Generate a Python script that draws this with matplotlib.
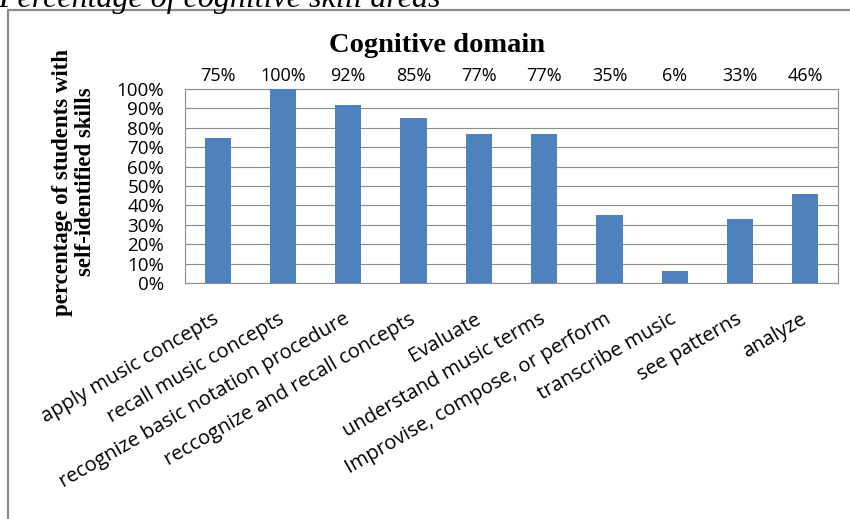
import numpy as np
import matplotlib.pyplot as plt
from matplotlib.patches import Rectangle

# survey results: share of students naming each cognitive skill
skills = ["apply music concepts", "recall music concepts",
          "recognize basic notation procedure", "reccognize and recall concepts",
          "Evaluate", "understand music terms", "Improvise, compose, or perform",
          "transcribe music", "see patterns", "analyze"]
pct = [75, 100, 92, 85, 77, 77, 35, 6, 33, 46]
yticks = list(range(0, 101, 10))

sans = "Open Sans"
serif = "Liberation Serif"

fig = plt.figure(figsize=(8.5, 5.19), dpi=100)
W, H = 850, 519

# caption sitting above the chart frame, mostly cut off
fig.text(-2 / W, 1 - 7 / H, "Percentage of cognitive skill areas", family=serif,
         style="italic", fontsize=23, ha="left", va="baseline")

# outer chart frame
fig.patches.append(Rectangle((8 / W, -0.1), 1.2, (H - 10) / H + 0.1,
                             transform=fig.transFigure, fill=False,
                             edgecolor="#8c8c8c", linewidth=1.6))

ax = fig.add_axes([185 / W, 1 - 283 / H, (838 - 185) / W, (283 - 89) / H])
x = np.arange(len(skills))
ax.bar(x, pct, width=0.4, color="#4f81bd", zorder=3)

ax.set_xlim(-0.5, len(skills) - 0.5)
ax.set_ylim(0, 100)
ax.set_yticks(yticks)
ax.set_yticklabels([f"{v}%" for v in yticks], family=sans, fontsize=13.5)
ax.yaxis.grid(True, color="#8c8c8c", linewidth=0.8, zorder=0)
ax.tick_params(axis="y", length=0, pad=15)
ax.tick_params(axis="x", length=0, pad=25)
ax.set_xticks(x)
ax.set_xticklabels(skills, family=sans, fontsize=14.5, rotation=30,
                   ha="right", va="center", rotation_mode="anchor")
for s in ax.spines.values():
    s.set_color("#8c8c8c")
    s.set_linewidth(0.8)

# value labels in a row above the plot area
for xi, v in zip(x, pct):
    ax.text(xi, 102, f"{v}%", family=sans, fontsize=13, ha="center",
            va="bottom", clip_on=False)

fig.text(437 / W, 1 - 45 / H, "Cognitive domain", family=serif,
         fontweight="bold", fontsize=20.5, ha="center", va="center")
fig.text(74 / W, 1 - 182 / H, "percentage of students with\nself-identified skills",
         family=serif, fontweight="bold", fontsize=16.5, ha="center",
         va="center", rotation=90, linespacing=1.15)

fig.savefig("out.png", dpi=100)
